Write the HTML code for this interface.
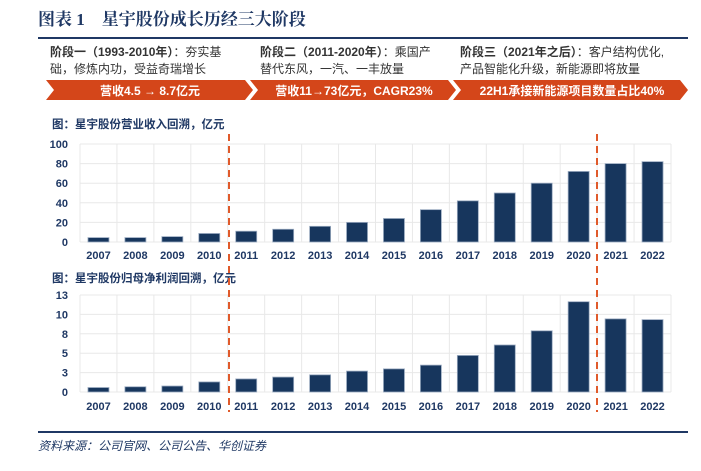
<!DOCTYPE html>
<html><head><meta charset="utf-8"><style>
body{margin:0;width:701px;height:466px;background:#fff;overflow:hidden;font-family:"Liberation Sans","Noto Sans CJK SC",sans-serif;}
svg text{font-family:"Liberation Sans","Noto Sans CJK SC",sans-serif;}
</style></head><body>
<svg id="c" width="701" height="466">
<text x="38" y="25" font-family="Liberation Serif,Noto Serif CJK SC,serif" font-size="17" font-weight="bold" fill="#1f3864" style="font-family:'Liberation Serif','Noto Serif CJK SC',serif">图表 1　星宇股份成长历经三大阶段</text>
<line x1="38" y1="38" x2="688" y2="38" stroke="#1f3864" stroke-width="2"/>
<g font-size="12" fill="#333">
<text x="50" y="56"><tspan font-weight="bold">阶段一（1993-2010年）</tspan>：夯实基</text>
<text x="50" y="73">础，修炼内功，受益奇瑞增长</text>
<text x="260" y="56"><tspan font-weight="bold">阶段二（2011-2020年）</tspan>：乘国产</text>
<text x="260" y="73">替代东风，一汽、一丰放量</text>
<text x="460" y="56"><tspan font-weight="bold">阶段三（2021年之后）</tspan>：客户结构优化,</text>
<text x="460" y="73">产品智能化升级，新能源即将放量</text>
</g>
<g>
<polygon points="46,80 245,80 253,90 245,100 46,100 54,90" fill="#d4461a"/>
<polygon points="250,80 448,80 456,90 448,100 250,100 258,90" fill="#d4461a"/>
<polygon points="453,80 680,80 688,90 680,100 453,100 461,90" fill="#d4461a"/>
<g fill="#fff" font-size="12" font-weight="bold" text-anchor="middle">
<text x="150" y="95">营收4.5 → 8.7亿元</text>
<text x="354" y="95">营收11→73亿元，CAGR23%</text>
<text x="572" y="95">22H1承接新能源项目数量占比40%</text>
</g></g>
<text x="52" y="128" font-size="11.5" font-weight="bold" fill="#1f3864">图：星宇股份营业收入回溯，亿元</text>
<text x="52" y="282" font-size="11.5" font-weight="bold" fill="#1f3864">图：星宇股份归母净利润回溯，亿元</text>
<g id="g1"></g><g id="g2"></g>
<line x1="229" y1="134" x2="229" y2="412" stroke="#e05a2b" stroke-width="2" stroke-dasharray="7,5"/>
<line x1="597" y1="134" x2="597" y2="412" stroke="#e05a2b" stroke-width="2" stroke-dasharray="7,5"/>
<line x1="38" y1="432" x2="688" y2="432" stroke="#1f3864" stroke-width="2"/>
<text x="38" y="450" font-size="12" font-style="italic" fill="#1f3864">资料来源：公司官网、公司公告、华创证券</text>
</svg>
<script>
const years=["2007","2008","2009","2010","2011","2012","2013","2014","2015","2016","2017","2018","2019","2020","2021","2022"];
const revenue=[4.5,4.5,5.5,8.7,11,13,16,20,24,33,42,50,60,72,80,82];
const profit=[0.6,0.7,0.8,1.35,1.75,2.0,2.3,2.8,3.1,3.6,4.9,6.3,8.2,12.1,9.8,9.7];
const revTicks=[0,20,40,60,80,100];
const profitTickVals=[0,2.6,5.2,7.8,10.4,13];
const profitTickLabels=["0","3","5","8","10","13"];
const NS="http://www.w3.org/2000/svg";
function mk(p,t,a){const e=document.createElementNS(NS,t);for(const k in a)e.setAttribute(k,a[k]);p.appendChild(e);return e;}
function chart(g,vals,tv,tl,max,y0,y1,lblY,prefix){
 const L=80,R=671,w=(R-L)/years.length;
 const x=i=>L+i*w, y=v=>y0-(v/max)*(y0-y1);
 for(let i=0;i<=years.length;i++){const l=mk(g,'line',{x1:L+i*w,x2:L+i*w,y1:y1,y2:y0,stroke:'#e8e8e8'});
 
 }
 tv.forEach((v,i)=>{const l=mk(g,'line',{x1:L,x2:R,y1:y(v),y2:y(v),stroke:'#e8e8e8'});
 
 
 const t=mk(g,'text',{x:L-12,y:y(v)+4,'text-anchor':'end','font-size':11,'font-weight':'bold',fill:'#1f3864'});t.textContent=tl[i];
 
 });
 vals.forEach((v,i)=>{const r=mk(g,'rect',{x:x(i)+w/2-10.5,y:y(v),width:21,height:y0-y(v),fill:'#17365d',stroke:'#9aaac0','stroke-width':0.8});
 
 
 const t=mk(g,'text',{x:x(i)+w/2,y:lblY,'text-anchor':'middle','font-size':11,'font-weight':'bold',fill:'#1f3864'});t.textContent=years[i];
 
 });
}
chart(document.getElementById('g1'),revenue,revTicks,revTicks.map(String),100,242,144,259,'revenue');
chart(document.getElementById('g2'),profit,profitTickVals,profitTickLabels,13,392,295,410,'profit');
</script>
</body></html>
